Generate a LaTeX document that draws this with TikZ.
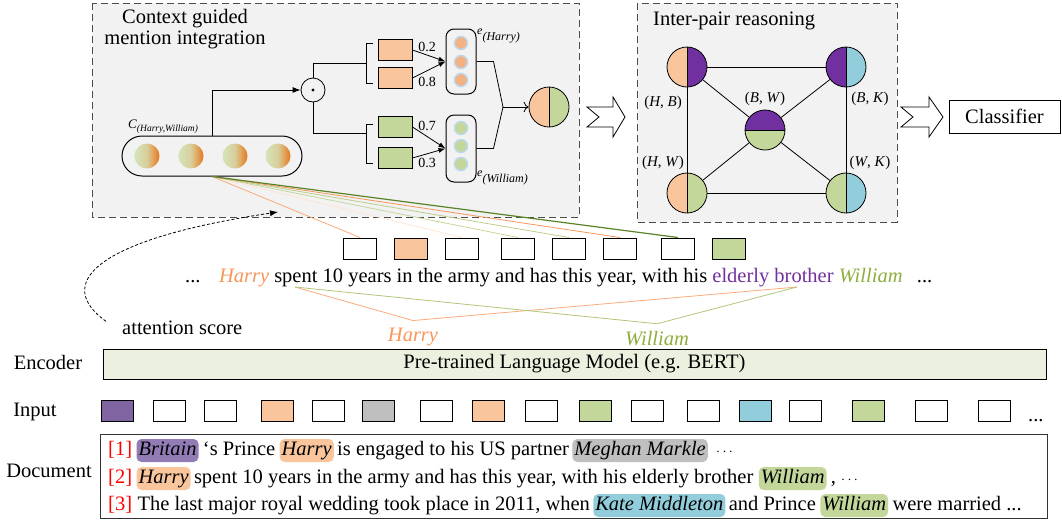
\documentclass[tikz,border=0pt]{standalone}
\usepackage{fontspec}
\setmainfont{Liberation Serif}
\usepackage{tikz}
\usetikzlibrary{arrows.meta,positioning}

\tikzset{
  panel/.style={draw=black!70,fill=cPanel,dash pattern=on 7pt off 4pt,line width=1pt},
  tok/.style={draw,line width=1pt,minimum width=32pt,minimum height=21pt,inner sep=0pt,anchor=west},
  rect/.style={draw,line width=1pt,minimum width=34pt,minimum height=21pt,inner sep=0pt},
  vecbox/.style={draw,line width=1pt,rounded corners=8pt,minimum width=30pt,inner sep=0pt},
  dot/.style={circle,draw=cHalo,line width=1.5pt,minimum size=13pt,inner sep=0pt},
  lr/.style 2 args={circle,draw,line width=0.8pt,minimum size=40pt,inner sep=0pt,
    path picture={
      \fill[#1] (path picture bounding box.north west) rectangle (path picture bounding box.south);
      \fill[#2] (path picture bounding box.north) rectangle (path picture bounding box.south east);
      \draw[line width=0.8pt] (path picture bounding box.north) -- (path picture bounding box.south);}},
  tb/.style 2 args={circle,draw,line width=0.8pt,minimum size=40pt,inner sep=0pt,
    path picture={
      \fill[#1] (path picture bounding box.north west) rectangle (path picture bounding box.east);
      \fill[#2] (path picture bounding box.west) rectangle (path picture bounding box.south east);
      \draw[line width=0.8pt] (path picture bounding box.west) -- (path picture bounding box.east);}},
  small/.style={font=\fontsize{14pt}{16pt}\selectfont,inner sep=1pt},
  pair/.style={font=\fontsize{15pt}{16pt}\selectfont,inner sep=1pt},
  txt/.style={inner sep=0pt},
  ment/.style={rounded corners=5pt,inner xsep=2pt,inner ysep=2pt,text height=14pt,text depth=5pt,font=\itshape},
  wire/.style={line width=0.8pt},
}

\begin{document}
\begin{tikzpicture}[x=1pt,y=-1pt]
%
\useasboundingbox (0,0) rectangle (1062,520);
\fontsize{20.5pt}{24pt}\selectfont
%
\definecolor{cPanel}{RGB}{242,242,242}
\definecolor{cOr}{RGB}{248,197,157}
\definecolor{cGr}{RGB}{196,215,155}
\definecolor{cPu}{RGB}{112,48,160}
\definecolor{cPuI}{RGB}{128,100,162}
\definecolor{cPuM}{RGB}{146,124,182}
\definecolor{cBl}{RGB}{146,205,220}
\definecolor{cGy}{RGB}{191,191,191}
\definecolor{cEnc}{RGB}{235,241,222}
\definecolor{cOrT}{RGB}{247,150,90}
\definecolor{cGrT}{RGB}{143,174,62}
\definecolor{cGrD}{RGB}{90,130,40}
\definecolor{cGL}{RGB}{212,228,186}
\definecolor{cOD}{RGB}{232,118,28}
\definecolor{cDot}{RGB}{244,177,131}
\definecolor{cHalo}{RGB}{189,215,238}
%
\draw[panel] (92,3) rectangle (579,217);
\draw[panel] (637,3) rectangle (897,222);
\node[align=center,font=\fontsize{20.5pt}{21pt}\selectfont] (ctitle) at (185,29) {Context guided\\mention integration};
\node[anchor=base west,inner sep=0pt] (ptitle) at (653,25) {Inter-pair reasoning};
%
\node[draw,line width=1pt,rounded corners=20pt,minimum width=180pt,minimum height=40pt] (ctx) at (212,156) {};
\foreach \x [count=\i] in {147,191,235,278}
  \node[circle,minimum size=25pt,inner sep=0pt,left color=cGL,right color=cOD,middle color=cGL!80!cOD] (cv\i) at (\x,156) {};
\node[anchor=base west,inner sep=0pt] (clbl) at (128,128) {\fontsize{13pt}{14pt}\selectfont\textit{C}\raisebox{-3pt}{\fontsize{9.5pt}{10pt}\selectfont\textit{(Harry,William)}}};
%
\node[circle,draw,line width=0.8pt,minimum size=24pt,inner sep=0pt] (odot) at (313,90) {};
\fill (odot.center) circle (1.6);
\draw[wire,-{Latex[length=8pt,width=6pt]}] (ctx.north) |- (odot.west);
\coordinate (hbrk) at (366,63);
\coordinate (wbrk) at (366,133);
\draw[wire] (373,43) -- (366,43) -- (366,83) -- (373,83);
\draw[wire] (373,124) -- (366,124) -- (366,163) -- (373,163);
\draw[wire] (odot.north) |- (hbrk);
\draw[wire] (odot.south) |- (wbrk);
%
\node[rect,fill=cOr] (hr1) at (395,50) {};
\node[rect,fill=cOr] (hr2) at (395,78) {};
\node[rect,fill=cGr] (wr1) at (395,127) {};
\node[rect,fill=cGr] (wr2) at (395,158) {};
\node[small] (w1) at (427,47) {0.2};
\node[small] (w2) at (427,82) {0.8};
\node[small] (w3) at (427,126) {0.7};
\node[small] (w4) at (427,163) {0.3};
%
\node[vecbox,minimum height=65pt] (eh) at (461,61.5) {};
\node[vecbox,minimum height=67pt] (ew) at (461,148.5) {};
\foreach \y [count=\i] in {43,62,80}
  \node[dot,fill=cDot] (hd\i) at (461,\y) {};
\foreach \y [count=\i] in {128,146,164}
  \node[dot,fill=cGr] (wd\i) at (461,\y) {};
\foreach \a/\b in {hr1/eh,hr2/eh,wr1/ew,wr2/ew}
  \draw[wire,-{Latex[length=7pt,width=5pt]}] (\a.east) -- (\b.west);
\node[anchor=west,inner sep=0pt,font=\fontsize{12pt}{13pt}\selectfont] (ehl) at (477,36) {\textit{e}\raisebox{-6pt}{\textit{(Harry)}}};
\node[anchor=west,inner sep=0pt,font=\fontsize{12pt}{13pt}\selectfont] (ewl) at (477,178) {\textit{e}\raisebox{-6pt}{\textit{(William)}}};
%
\node[lr={cOr}{cGr}] (res) at (549,107) {};
\coordinate (mix) at (503,107);
\draw[wire] (eh.east) -- ++(17,0) -- (mix);
\draw[wire] (ew.east) -- ++(17,0) -- (mix);
\draw[wire,-{To[length=5pt]}] (mix) -- (res.west);
%
\draw[wire,fill=white] (587,107) -- (613,107) -- (613,97) -- (625,117) -- (613,137) -- (613,127) -- (587,127) -- (599,117) -- cycle;
\draw[wire,fill=white] (901,107) -- (929,107) -- (929,97) -- (943,117) -- (929,137) -- (929,127) -- (901,127) -- (913,117) -- cycle;
%
\node[lr={cOr}{cPu}] (hb) at (687,67) {};
\node[lr={cPu}{cBl}] (bk) at (846,67) {};
\node[lr={cOr}{cGr}] (hw) at (687,193) {};
\node[lr={cGr}{cBl}] (wk) at (846,193) {};
\node[tb={cPu}{cGr}] (bw) at (765,130) {};
\foreach \a/\b in {hb/bk,hb/hw,bk/wk,hw/wk,hb/bw,bk/bw,hw/bw,wk/bw}
  \draw[wire] (\a) -- (\b);
\node[pair] (lhb) at (663,103) {(\textit{H}, \textit{B})};
\node[pair] (lhw) at (663,163) {(\textit{H}, \textit{W})};
\node[pair] (lbw) at (765,99) {(\textit{B}, \textit{W})};
\node[pair] (lbk) at (870,99) {(\textit{B}, \textit{K})};
\node[pair] (lwk) at (870,163) {(\textit{W}, \textit{K})};
%
\node[draw,line width=1pt,minimum width=111pt,minimum height=33pt] (cls) at (1004.5,116.5) {Classifier};
%
\foreach \x/\c [count=\i] in {343/white,394/cOr,445/white,501/white,552/white,603/white,661/white,712/cGr}
  \node[tok,fill=\c,minimum width=33pt] (tk\i) at (\x,248.5) {};
\foreach \i/\c/\w in {1/cOrT!80/0.8pt,3/cOrT!25/0.8pt,4/cGr/0.8pt,5/cGrT!60/0.8pt,6/cOrT/0.8pt,7/cGrD/1.2pt}
  \draw[\c,line width=\w] (ctx.south) -- (tk\i.north);
%
\node[anchor=base west,inner sep=0pt] (sent) at (185,282) {...\hspace{0.9em}\textcolor{cOrT}{\textit{Harry}} spent 10 years in the army and has this year, with his \textcolor{cPu}{elderly brother} \textcolor{cGrT}{\textit{William}}\hspace{0.7em}...};
\coordinate (spentpt) at (295,287);
\coordinate (brotherpt) at (797,287);
\node[anchor=base,text=cOrT,font=\itshape] (harry) at (413,341) {Harry};
\node[anchor=base,text=cGrT,font=\itshape] (william) at (657,345) {William};
\draw[cOrT!80,wire] (spentpt) -- (harry.north) -- (brotherpt);
\draw[cGrT!70,wire] (spentpt) -- (william.north) -- (brotherpt);
%
\node[anchor=base west,inner sep=0pt] (attn) at (122,334) {attention score};
\coordinate (attnend) at (278,212);
\draw[dash pattern=on 3pt off 2pt,wire,-{Latex[length=8pt,width=6pt]}] (attn.west) ++(-16,-6) .. controls (55,285) and (90,240) .. (attnend);
%
\node[anchor=base] (encl) at (48,369) {Encoder};
\node[draw,line width=1pt,fill=cEnc,minimum width=943pt,minimum height=30pt,inner sep=0pt] (enc) at (574.5,364) {Pre-trained Language Model (e.g. BERT)};
%
\node (inl) at (35,412) {Input};
\foreach \x/\c [count=\i] in {101/cPuI,153/white,204/white,261/cOr,312/white,362/cGy,420/white,472/cOr,525/white,579/cGr,631/white,687/white,739/cBl,789/white,852/cGr,915/white,978/white}
  \node[tok,fill=\c] (in\i) at (\x,411) {};
\node[anchor=base west,inner sep=0pt] (indots) at (1028,421) {...};
%
\node (docl) at (49,471) {Document};
\node[draw,line width=1pt,draw=black!80,minimum width=947pt,minimum height=84pt,inner sep=0pt] (docbox) at (573.5,476) {};
%
\node[txt,anchor=base west] (d1a) at (108,455) {\textcolor{red}{[1]}};
\node[ment,fill=cPuM,base right=4pt of d1a] (d1b) {Britain};
\node[txt,base right=4pt of d1b] (d1c) {‘s Prince};
\node[ment,fill=cOr,base right=4pt of d1c] (d1d) {Harry};
\node[txt,base right=3pt of d1d] (d1e) {is engaged to his US partner};
\node[ment,fill=cGy,base right=3pt of d1e] (d1f) {Meghan Markle};
\node[txt,base right=8pt of d1f,font=\fontsize{14pt}{16pt}\selectfont] (d1g) {$\cdots$};
%
\node[txt,anchor=base west] (d2a) at (108,483) {\textcolor{red}{[2]}};
\node[ment,fill=cOr,base right=4pt of d2a] (d2b) {Harry};
\node[txt,base right=3pt of d2b] (d2c) {spent 10 years in the army and has this year, with his elderly brother};
\node[ment,fill=cGr,base right=5pt of d2c] (d2d) {William};
\node[txt,base right=4pt of d2d] (d2e) {, {\fontsize{14pt}{16pt}\selectfont$\cdots$}};
%
\node[txt,anchor=base west] (d3a) at (108,510) {\textcolor{red}{[3]}};
\node[txt,base right=5pt of d3a] (d3b) {The last major royal wedding took place in 2011, when};
\node[ment,fill=cBl,base right=3pt of d3b] (d3c) {Kate Middleton};
\node[txt,base right=3pt of d3c] (d3d) {and Prince};
\node[ment,fill=cGr,base right=4pt of d3d] (d3e) {William};
\node[txt,base right=4pt of d3e] (d3f) {were married ...};
%
\end{tikzpicture}
\end{document}
